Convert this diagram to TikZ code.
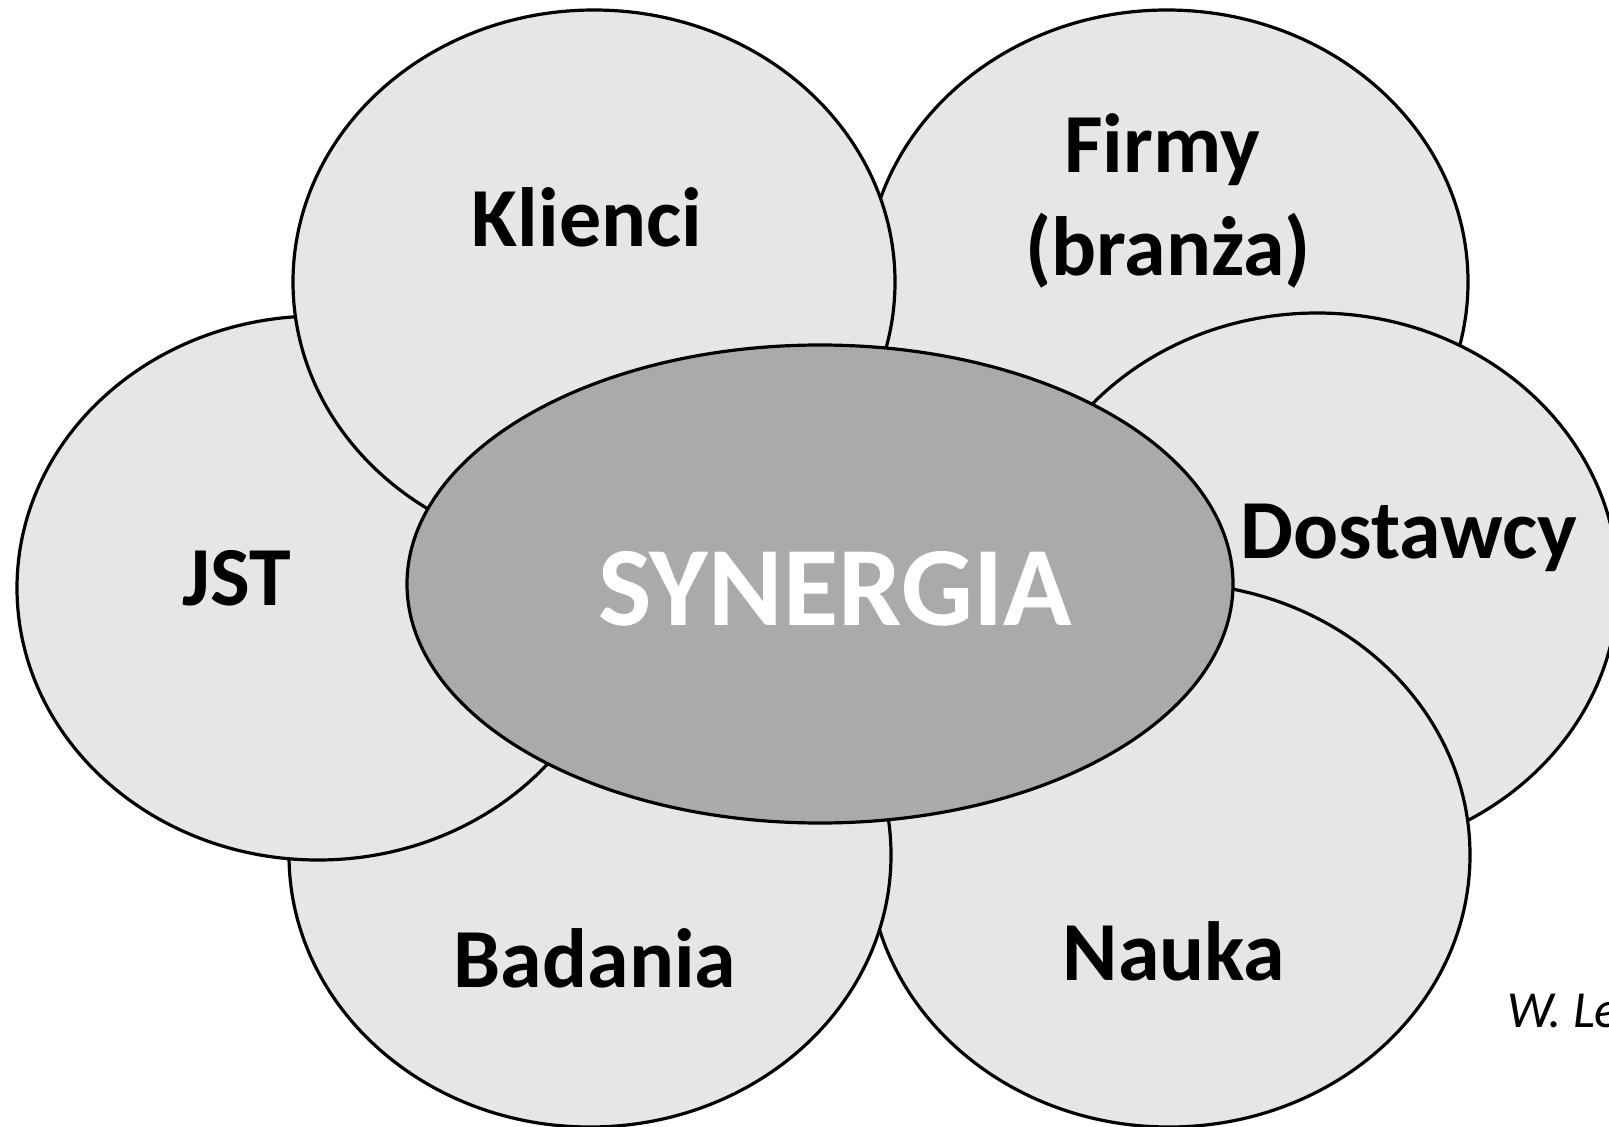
\documentclass[tikz,border=0pt]{standalone}
\usepackage{fontspec}
\setmainfont{Carlito}
\usetikzlibrary{shapes.geometric}
\definecolor{petalgray}{gray}{0.902}
\definecolor{coregray}{gray}{0.667}

\begin{document}
\begin{tikzpicture}[x=1pt,y=-1pt,
    petal/.style={ellipse,draw=black,line width=3.2pt,fill=petalgray,
      minimum width=602pt,minimum height=544pt,inner sep=0pt},
    core/.style={ellipse,draw=black,line width=3.2pt,fill=coregray,
      minimum width=826pt,minimum height=478pt,inner sep=0pt},
    tag/.style={anchor=base,font=\fontsize{84}{100}\selectfont\bfseries}]
        \clip (0,0) rectangle (1609,1127);
        % petals, lowest first
        \node[petal] (firmy) at (1167,282) {};
        \node[petal] (dostawcy) at (1317,585) {};
        \node[petal] (nauka) at (1169,855) {};
        \node[petal] (badania) at (590,855) {};
        \node[petal] (jst) at (318,588) {};
        \node[petal] (klienci) at (594,282) {};
        \node[core] (synergia) at (820,584) {};
        % labels
        \node[tag] (lklienci) at (587,246) {Klienci};
        \node[tag] (lfirmy) at (1162,172) {Firmy};
        \node[tag] (lbranza) at (1168,275) {(branża)};
        \node[tag] (ljst) at (237,605) {JST};
        \node[tag] (ldostawcy) at (1409,558) {Dostawcy};
        \node[tag] (lbadania) at (595,987) {Badania};
        \node[tag] (lnauka) at (1174,980) {Nauka};
        \node[tag,text=white,font=\fontsize{113}{135}\selectfont\bfseries] (lsynergia) at (835,625) {SYNERGIA};
        \node[anchor=base west,inner sep=0pt,font=\fontsize{52}{62}\selectfont\itshape] (lautor) at (1507,1027) {W. Le};
\end{tikzpicture}
\end{document}
